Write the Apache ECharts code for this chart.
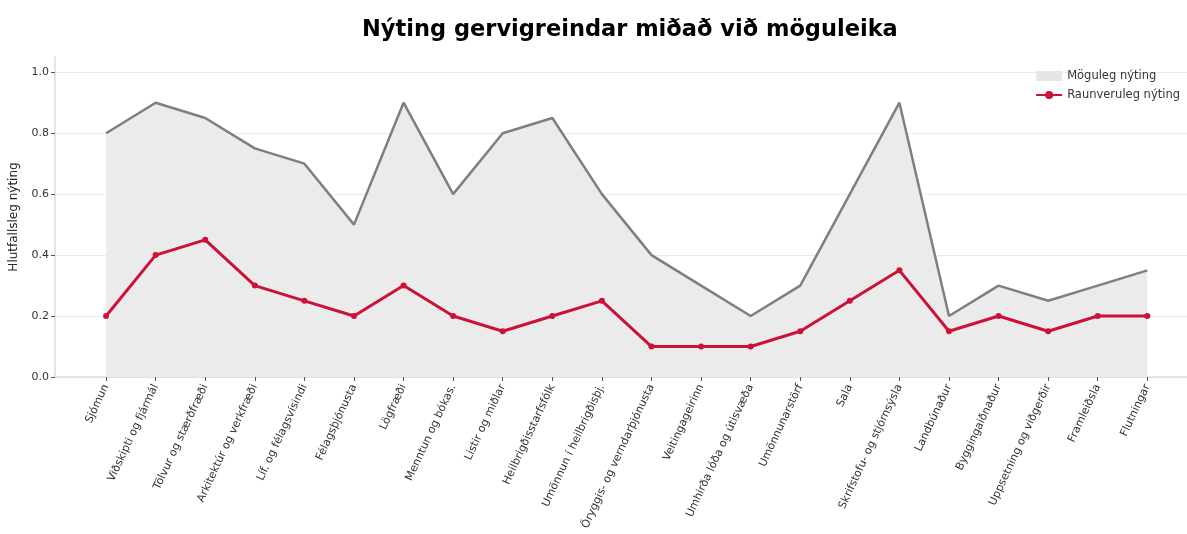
<!DOCTYPE html>
<html>
<head>
<meta charset="utf-8">
<script src="https://cdn.jsdelivr.net/npm/echarts@6/dist/echarts.min.js"></script>
<style>html,body{margin:0;padding:0;background:#fff;}#c{width:1187px;height:534px;}</style>
</head>
<body>
<div id="c"></div>
<script>
const categories = [
  "Sjómun", "Viðskipti og fjármál", "Tölvur og stærðfræði", "Arkitektúr og verkfræði",
  "Líf. og félagsvísindi", "Félagsþjónusta", "Lögfræði", "Menntun og bókas.",
  "Listir og miðlar", "Heilbrigðisstarfsfólk", "Umönnun í heilbrigðisþj.",
  "Öryggis- og verndarþjónusta", "Veitingageirinn", "Umhirða lóða og útisvæða",
  "Umönnunarstörf", "Sala", "Skrifstofu- og stjórnsýsla", "Landbúnaður",
  "Byggingaiðnaður", "Uppsetning og viðgerðir", "Framleiðsla", "Flutningar"
];
const potential = [0.8, 0.9, 0.85, 0.75, 0.7, 0.5, 0.9, 0.6, 0.8, 0.85, 0.6, 0.4, 0.3, 0.2, 0.3, 0.6, 0.9, 0.2, 0.3, 0.25, 0.3, 0.35];
const actual = [0.2, 0.4, 0.45, 0.3, 0.25, 0.2, 0.3, 0.2, 0.15, 0.2, 0.25, 0.1, 0.1, 0.1, 0.15, 0.25, 0.35, 0.15, 0.2, 0.15, 0.2, 0.2];
const yTicks = [0, 0.2, 0.4, 0.6, 0.8, 1.0];

const idx = categories.map((_, i) => i);
const chart = echarts.init(document.getElementById('c'), null, {renderer: 'canvas'});
chart.setOption({
  animation: false,
  backgroundColor: '#ffffff',
  textStyle: {fontFamily: 'DejaVu Sans'},
  title: {
    text: 'Nýting gervigreindar miðað við möguleika',
    left: 357, top: 14,
    textStyle: {fontFamily: 'DejaVu Sans', fontSize: 22.5, fontWeight: 'bold', color: '#000'}
  },
  legend: {
    right: 2, top: 65, orient: 'vertical', itemGap: 7,
    itemWidth: 26, itemHeight: 10,
    textStyle: {fontSize: 11.5, color: '#333'},
    data: [
      {name: 'Möguleg nýting', icon: 'rect', itemStyle: {color: '#e6e6e6', borderWidth: 0}},
      {name: 'Raunveruleg nýting'}
    ]
  },
  grid: {left: 55, right: 0, top: 57, bottom: 157},
  xAxis: {
    type: 'value', min: -1.03, max: 21.8,
    splitLine: {show: false},
    axisLine: {show: true, onZero: false, lineStyle: {color: '#dddddd', width: 1.5}},
    axisTick: {show: true, customValues: idx, length: 4, lineStyle: {color: '#555'}},
    axisLabel: {
      customValues: idx, rotate: 65, fontSize: 11, color: '#333', margin: 8,
      formatter: v => categories[Math.round(v)]
    }
  },
  yAxis: {
    type: 'value', min: 0, max: 1.05,
    name: 'Hlutfallsleg nýting', nameLocation: 'middle', nameGap: 35,
    nameTextStyle: {fontSize: 12, color: '#222'},
    axisLine: {show: true, onZero: false, lineStyle: {color: '#dddddd', width: 1.5}},
    axisTick: {show: true, customValues: yTicks, length: 4, lineStyle: {color: '#555'}},
    axisLabel: {customValues: yTicks, fontSize: 11, color: '#333', margin: 6, formatter: v => v.toFixed(1)},
    splitLine: {show: true, lineStyle: {color: '#ebebeb', width: 1}}
  },
  series: [
    {
      name: 'Möguleg nýting', type: 'line',
      data: potential.map((v, i) => [i, v]),
      symbol: 'none',
      lineStyle: {color: '#7f7f7f', width: 2.5},
      itemStyle: {color: '#7f7f7f'},
      areaStyle: {color: '#ebebeb', opacity: 1, origin: 'start'},
      z: 2
    },
    {
      name: 'Raunveruleg nýting', type: 'line',
      data: actual.map((v, i) => [i, v]),
      symbol: 'circle', symbolSize: 6, showSymbol: true,
      lineStyle: {color: '#cc1236', width: 3},
      itemStyle: {color: '#cc1236'},
      z: 3
    }
  ]
});
</script>
</body>
</html>
